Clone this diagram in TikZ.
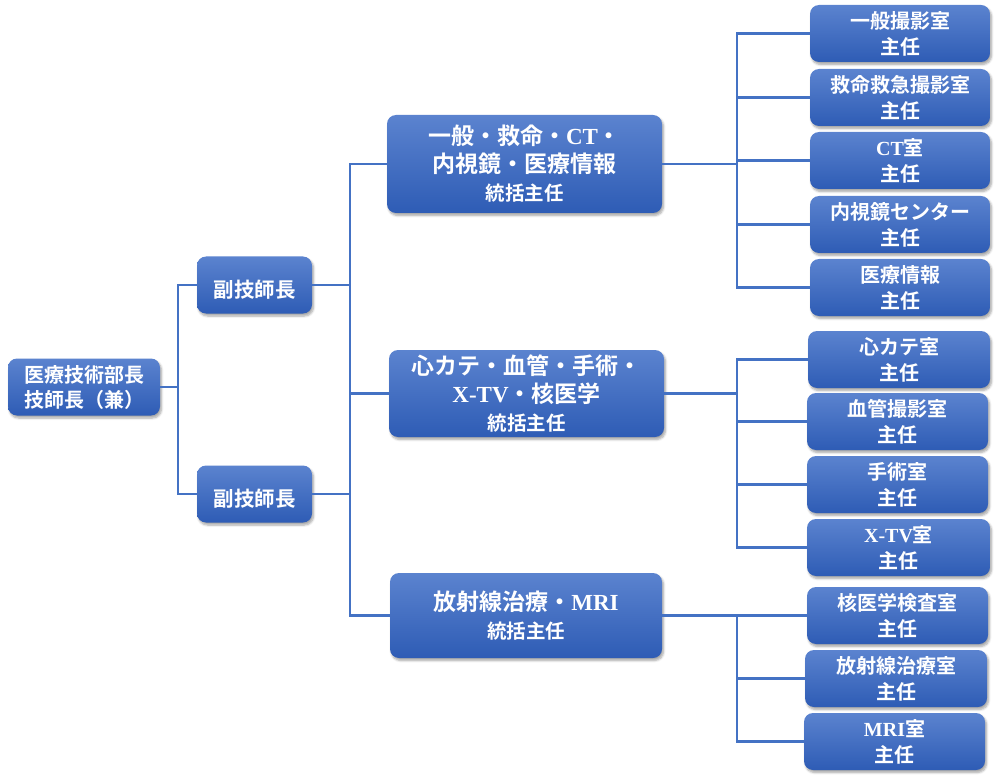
\documentclass[tikz,border=0pt]{standalone}
\usepackage{fontspec}
\setmainfont{Noto Sans CJK JP}[BoldFont={Noto Sans CJK JP Bold}]
\newfontfamily\lat{Liberation Serif}[BoldFont={Liberation Serif Bold}]
\usetikzlibrary{shadows.blur,calc}
\definecolor{linec}{HTML}{4472C4}
\definecolor{boxtop}{HTML}{5B83CF}
\definecolor{boxbot}{HTML}{2E5CB5}
\tikzset{
  conn/.style={draw=linec,line width=2.5pt},
  orgbox/.style={rounded corners=9pt,top color=boxtop,bottom color=boxbot,draw=none,
    text=white,align=center,inner sep=0pt,
    execute at begin node={\rule{0pt}{1.3em}},
    blur shadow={shadow xshift=1.5pt,shadow yshift=-2.5pt,shadow blur steps=6,shadow opacity=35}},
  leafbox/.style={orgbox,minimum width=181pt,minimum height=57pt,font=\bfseries\fontsize{20}{26}\selectfont},
  grpbox/.style={orgbox,minimum width=275pt,font=\bfseries\fontsize{23}{28}\selectfont},
  vicebox/.style={orgbox,minimum width=115pt,minimum height=57pt,font=\bfseries\fontsize{20.5}{25}\selectfont},
  rootbox/.style={orgbox,minimum width=152pt,minimum height=57pt,font=\bfseries\fontsize{20}{25}\selectfont},
}
\newcommand{\subline}{\fontsize{19.5}{26}\selectfont}
\begin{document}
\begin{tikzpicture}[x=1pt,y=-1pt]
\useasboundingbox (0,0) rectangle (999,778);
% nodes
\node[rootbox] (root) at (84,387) {医療技術部長\\技師長（兼）};
\node[vicebox] (v1) at (254.5,285) {副技師長};
\node[vicebox] (v2) at (254.5,494) {副技師長};
\node[grpbox,minimum height=98pt] (g1) at (524.5,164) {一般・救命・{\lat CT}・\\内視鏡・医療情報\\{\subline 統括主任}};
\node[grpbox,minimum height=87pt] (g2) at (526.5,393.5) {心カテ・血管・手術・\\{\lat X-TV}・核医学\\{\subline 統括主任}};
\node[grpbox,minimum width=272pt,minimum height=85pt] (g3) at (526,615.5) {放射線治療・{\lat MRI}\\{\subline 統括主任}};
\node[leafbox,minimum width=180pt] (l1) at (900,33.5) {一般撮影室\\主任};
\node[leafbox,minimum width=180pt] (l2) at (900,97.5) {救命救急撮影室\\主任};
\node[leafbox,minimum width=180pt] (l3) at (900,160.5) {{\lat CT}室\\主任};
\node[leafbox,minimum width=180pt] (l4) at (900,224.5) {内視鏡センター\\主任};
\node[leafbox,minimum width=180pt] (l5) at (900,287.5) {医療情報\\主任};
\node[leafbox,minimum width=182pt] (m1) at (899,359.5) {心カテ室\\主任};
\node[leafbox] (m2) at (897.5,421.5) {血管撮影室\\主任};
\node[leafbox] (m3) at (897.5,484.5) {手術室\\主任};
\node[leafbox,minimum width=183pt] (m4) at (898.5,547.5) {{\lat X-TV}室\\主任};
\node[leafbox] (n1) at (897.5,615.5) {核医学検査室\\主任};
\node[leafbox,minimum width=182pt] (n2) at (896,678.5) {放射線治療室\\主任};
\node[leafbox] (n3) at (894.5,741.5) {{\lat MRI}室\\主任};
% junctions
\coordinate (j0) at (178,0);
\coordinate (j1) at (350,0);
\coordinate (j2) at (737,0);
% connectors level 1
\draw[conn] (root.east) -- (root.east -| j0);
\draw[conn] (v1.west) -- (v1.west -| j0) -- (v2.west -| j0) -- (v2.west);
% level 2
\draw[conn] (v1.east) -- (v1.east -| j1);
\draw[conn] (v2.east) -- (v2.east -| j1);
\draw[conn] (g1.west) -- (g1.west -| j1) -- (g3.west -| j1) -- (g3.west);
\draw[conn] (g2.west -| j1) -- (g2.west);
% level 3
\draw[conn] (g1.east) -- (g1.east -| j2);
\draw[conn] (l1.west) -- (l1.west -| j2) -- (l5.west -| j2) -- (l5.west);
\foreach \n in {l2,l3,l4} \draw[conn] (\n.west -| j2) -- (\n.west);
\draw[conn] (g2.east) -- (g2.east -| j2);
\draw[conn] (m1.west) -- (m1.west -| j2) -- (m4.west -| j2) -- (m4.west);
\foreach \n in {m2,m3} \draw[conn] (\n.west -| j2) -- (\n.west);
\draw[conn] (g3.east) -- (g3.east -| j2) -- (n3.west -| j2) -- (n3.west);
\draw[conn] (n1.west -| j2) -- (n1.west);
\draw[conn] (n2.west -| j2) -- (n2.west);
\end{tikzpicture}
\end{document}
